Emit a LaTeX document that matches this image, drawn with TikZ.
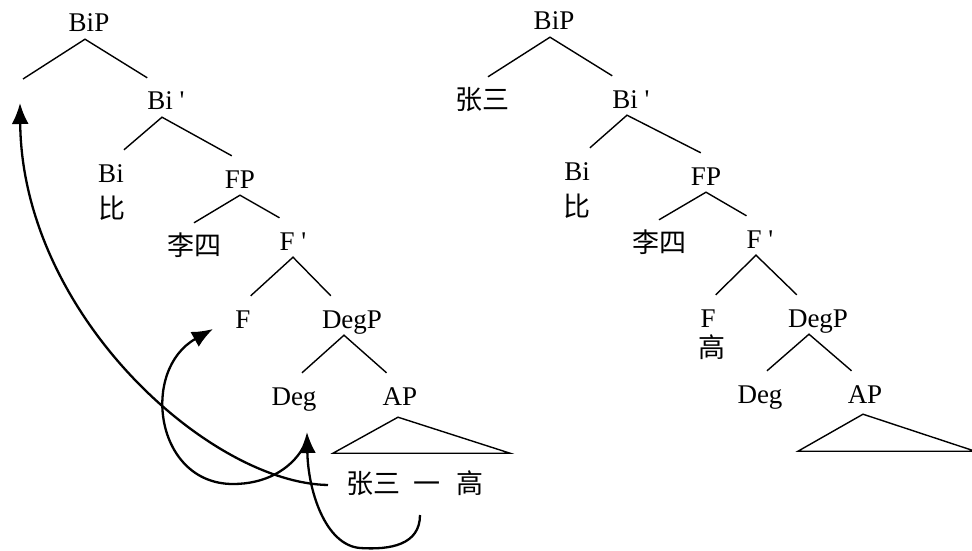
\documentclass[tikz,border=0pt]{standalone}
\usepackage{fontspec}
\setmainfont{Liberation Serif}
\newfontfamily\cjk{Noto Sans CJK SC}
\usetikzlibrary{arrows.meta}

\begin{document}
\begin{tikzpicture}[x=1pt, y=-1pt,
		lbl/.style={anchor=base, inner xsep=0pt, inner ysep=7pt, text height=25pt, text depth=0pt, font=\fontsize{27}{32}\selectfont},
		zh/.style={lbl, font=\fontsize{27}{32}\selectfont\cjk},
		br/.style={line width=1.4pt},
		mv/.style={line width=2.3pt, -{Latex[length=21pt,width=17pt]}}]
				\useasboundingbox (0,0) rectangle (972,551);
				
				%Left tree
				\node[lbl] (lBiP) at (89,32) {BiP};
				\coordinate (gap) at (23,79);
				\node[lbl] (lBi1) at (166,110) {Bi \textquotesingle};
				\node[lbl] (lBi) at (111,182) {Bi};
				\node[zh] (lbi) at (112,218) {比};
				\node[lbl] (lFP) at (240,188) {FP};
				\node[zh] (lLisi) at (194,255) {李四};
				\node[lbl] (lF1) at (293,250) {F \textquotesingle};
				\node[lbl] (lF) at (243,328) {F};
				\node[lbl] (lDegP) at (352,328) {DegP};
				\node[lbl] (lDeg) at (294,405) {Deg};
				\node[lbl] (lAP) at (400,405) {AP};
				\node[zh] (words) at (415,493) {张三\hspace{0.5em}一\hspace{0.6em}高};
				
				%Left branches
				\draw[br] (gap) -- ([xshift=-4pt]lBiP.south) -- (lBi1.north west);
				\draw[br] (lBi.north east) -- ([xshift=-4pt]lBi1.south) -- ([xshift=7pt]lFP.north west);
				\draw[br] (lLisi.north) -- (lFP.south) -- (lF1.north west);
				\draw[br] (lF.north east) -- (lF1.south) -- ([xshift=9pt]lDegP.north west);
				\draw[br] ([xshift=8pt]lDeg.north) -- ([xshift=-8pt]lDegP.south) -- ([xshift=4pt]lAP.north west);
				\draw[br] ([xshift=-2pt,yshift=-5pt]lAP.south) -- ++(-65,36) -- ++(177,0) -- cycle;
				
				%Right tree
				\node[lbl] (rBiP) at (554,30) {BiP};
				\node[zh] (rZs) at (482,109) {张三};
				\node[lbl] (rBi1) at (631,108) {Bi \textquotesingle};
				\node[lbl] (rBi) at (577,180) {Bi};
				\node[zh] (rbi) at (577,216) {比};
				\node[lbl] (rFP) at (706,185) {FP};
				\node[zh] (rLisi) at (659,252) {李四};
				\node[lbl] (rF1) at (760,248) {F \textquotesingle};
				\node[lbl] (rF) at (708,327) {F};
				\node[zh] (rgao) at (712,357) {高};
				\node[lbl] (rDegP) at (818,327) {DegP};
				\node[lbl] (rDeg) at (760,403) {Deg};
				\node[lbl] (rAP) at (865,403) {AP};
				
				%Right branches
				\draw[br] ([xshift=6pt]rZs.north) -- ([xshift=-4pt]rBiP.south) -- (rBi1.north west);
				\draw[br] (rBi.north east) -- ([xshift=-4pt]rBi1.south) -- ([xshift=10pt]rFP.north west);
				\draw[br] (rLisi.north) -- (rFP.south) -- (rF1.north west);
				\draw[br] (rF.north east) -- ([xshift=-4pt]rF1.south) -- ([xshift=9pt]rDegP.north west);
				\draw[br] ([xshift=7pt]rDeg.north) -- ([xshift=-9pt]rDegP.south) -- ([xshift=4pt]rAP.north west);
				\draw[br] ([xshift=-2pt,yshift=-4pt]rAP.south) -- ++(-65,37) -- ++(177,0) -- cycle;
				
				%Movement
				\coordinate (zsend) at (328,485);
				\coordinate (gapbot) at (20,103);
				\coordinate (yiend) at (420,515);
				\coordinate (degtip) at (307,432);
				\coordinate (degtail) at (303,448);
				\coordinate (ftip) at (213,329);
				\draw[mv] (zsend) .. controls (210,483) and (22,315) .. (gapbot);
				\draw[mv] (yiend) .. controls (420,545) and (390,550) .. (360,548) .. controls (325,545) and (308,490) .. (degtip);
				\draw[mv] (degtail) .. controls (290,470) and (265,484) .. (233,484) .. controls (155,484) and (140,370) .. (ftip);
			\end{tikzpicture}
\end{document}
